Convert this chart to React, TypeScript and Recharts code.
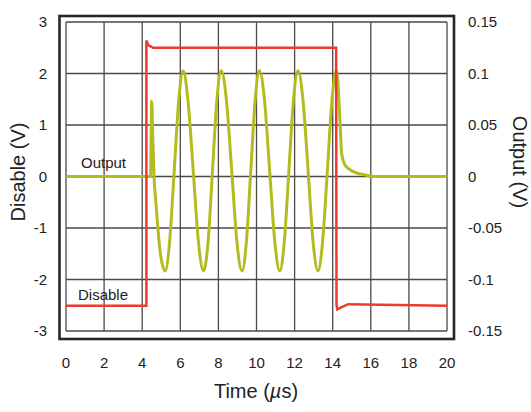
import React from "react";
import { LineChart, Line, XAxis, YAxis, CartesianGrid } from "recharts";

// time in µs
const timeTicks = [0, 2, 4, 6, 8, 10, 12, 14, 16, 18, 20];
const disableTicks = [-3, -2, -1, 0, 1, 2, 3];
const outputTicks = [-0.15, -0.1, -0.05, 0, 0.05, 0.1, 0.15];

// Disable trace (left axis, V)
const disableTime = [0, 4.22, 4.22, 4.32, 4.58, 5.0, 14.18, 14.2, 14.24, 14.5, 14.82, 20];
const disableVolts = [-2.51, -2.51, 2.64, 2.55, 2.5, 2.5, 2.5, -2.5, -2.58, -2.53, -2.48, -2.51];

// Output trace (right axis, V)
const outputTime = [
  0, 4.44, 4.47, 4.5, 4.55, 4.62, 4.71, 4.93, 5.2, 5.44, 5.68, 5.92, 6.15, 6.4, 6.68, 6.95,
  7.22, 7.46, 7.69, 7.92, 8.15, 8.42, 8.7, 8.97, 9.24, 9.47, 9.7, 9.93, 10.15, 10.42, 10.69,
  10.96, 11.22, 11.46, 11.7, 11.94, 12.18, 12.44, 12.71, 12.97, 13.23, 13.47, 13.72, 13.96,
  14.2, 14.38, 14.47, 14.65, 15.08, 15.6, 16.2, 20,
];
const outputVolts = [
  0, 0, 0.04, 0.073, 0.042, 0, -0.023, -0.071, -0.0917, -0.0632, 0.0055, 0.0742, 0.1027,
  0.0742, 0.0055, -0.0632, -0.0917, -0.0632, 0.0055, 0.0742, 0.1027, 0.0742, 0.0055, -0.0632,
  -0.0917, -0.0632, 0.0055, 0.0742, 0.1027, 0.0742, 0.0055, -0.0632, -0.0917, -0.0632, 0.0055,
  0.0742, 0.1027, 0.0742, 0.0055, -0.0632, -0.0917, -0.0632, 0.0055, 0.0742, 0.103, 0.055,
  0.0225, 0.011, 0.0047, 0.002, 0, 0,
];

const disableData = disableTime.map((t, i) => ({ t, v: disableVolts[i] }));
const outputData = outputTime.map((t, i) => ({ t, v: outputVolts[i] }));

const font = "'Liberation Sans', Arial, Helvetica, sans-serif";
const tickStyle = { fill: "#222", fontSize: 15, fontFamily: font };

export default function App() {
  return (
    <div style={{ position: "absolute", left: 0, top: 0, width: 531, height: 412, background: "#fff" }}>
      <LineChart width={531} height={412} margin={{ top: 22, right: 0, bottom: 0, left: 0 }}>
        <CartesianGrid yAxisId="left" stroke="#4a4a4a" strokeWidth={1.3} />
        <XAxis
          dataKey="t"
          type="number"
          domain={[0, 20]}
          ticks={timeTicks}
          height={81}
          axisLine={false}
          tickLine={false}
          tickSize={0}
          tickMargin={26}
          tick={tickStyle}
          allowDuplicatedCategory
        />
        <YAxis
          yAxisId="left"
          orientation="left"
          type="number"
          domain={[-3, 3]}
          ticks={disableTicks}
          width={66}
          axisLine={false}
          tickLine={false}
          tickSize={0}
          tickMargin={19}
          tick={tickStyle}
        />
        <YAxis
          yAxisId="right"
          orientation="right"
          type="number"
          domain={[-0.15, 0.15]}
          ticks={outputTicks}
          width={84}
          axisLine={false}
          tickLine={false}
          tickSize={0}
          tickMargin={21}
          tick={{ ...tickStyle, textAnchor: "start" }}
        />
        <Line
          yAxisId="right"
          data={outputData}
          dataKey="v"
          type="monotone"
          stroke="#b3bc1e"
          strokeWidth={3}
          dot={false}
          isAnimationActive={false}
        />
        <Line
          yAxisId="left"
          data={disableData}
          dataKey="v"
          type="linear"
          stroke="#ee3a2d"
          strokeWidth={2.5}
          dot={false}
          isAnimationActive={false}
        />
      </LineChart>
      <svg
        width={531}
        height={412}
        style={{ position: "absolute", left: 0, top: 0, pointerEvents: "none" }}
        fontFamily={font}
      >
        <rect x={59.5} y={16} width={394.5} height={323} fill="none" stroke="#262626" strokeWidth={2.6} />
        <text x={81} y={168} fontSize={15} fill="#222">Output</text>
        <text x={78} y={300} fontSize={15} fill="#222">Disable</text>
        <text x={18} y={172} fontSize={20} fill="#222" textAnchor="middle" dominantBaseline="central" transform="rotate(-90 18 172)">
          Disable (V)
        </text>
        <text x={520} y={162} fontSize={20} fill="#222" textAnchor="middle" dominantBaseline="central" transform="rotate(90 520 162)">
          Output (V)
        </text>
        <text x={256} y={398} fontSize={20} fill="#222" textAnchor="middle">
          Time (<tspan fontStyle="italic">µ</tspan>s)
        </text>
      </svg>
    </div>
  );
}
